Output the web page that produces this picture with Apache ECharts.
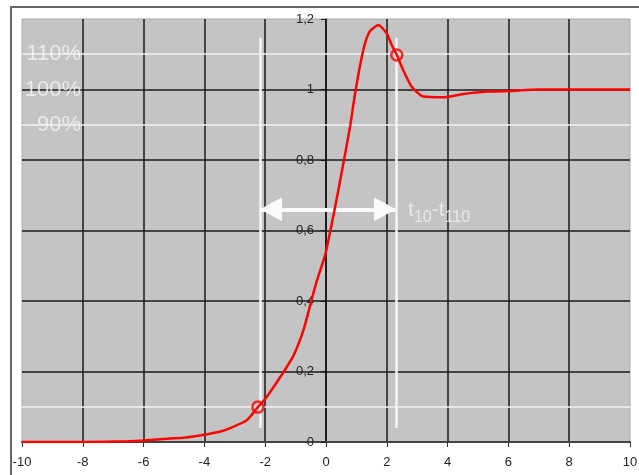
<!DOCTYPE html>
<html>
<head>
<meta charset="utf-8">
<script src="https://cdn.jsdelivr.net/npm/echarts@6/dist/echarts.min.js"></script>
<style>
html, body { margin: 0; padding: 0; background: #fff; }
#main { width: 639px; height: 475px; }
</style>
</head>
<body>
<div id="main"></div>
<script>
// step response
var curveX = [-10, -8, -6.5, -6, -5.35, -4.7, -4.05, -3.5, -3.05, -2.6, -2.25, -2.0, -1.46, -1.07, -0.75, -0.53, -0.31, -0.03, 0.3, 0.57, 0.79, 0.95, 1.12, 1.28, 1.45, 1.72, 2.0, 2.16, 2.33, 2.54, 2.82, 3.2, 3.86, 4.52, 5.29, 6.05, 7, 8, 10];
var curveY = [0, 0, 0.002, 0.004, 0.0085, 0.012, 0.02, 0.029, 0.043, 0.062, 0.098, 0.122, 0.19, 0.245, 0.315, 0.385, 0.455, 0.53, 0.667, 0.79, 0.894, 0.985, 1.068, 1.13, 1.166, 1.183, 1.159, 1.126, 1.098, 1.055, 1.008, 0.98, 0.978, 0.987, 0.994, 0.996, 1, 1, 1];

// marked points (10% and 110%)
var circleX = [-2.24, 2.33];
var circleY = [0.099, 1.098];

// reference levels
var levels = [1.1, 0.9, 0.1];
var levelText = ['110%', '100%', '90%'];
var levelTextY = [1.1, 1.0, 0.9];

// t10 / t110 markers
var markerX = [-2.17, 2.3];
var markerY = [0.04, 1.147];
var arrowY = 0.66;

var xTicks = { min: -10, max: 10, step: 2 };
var yTicks = { min: 0, max: 1.2, step: 0.2 };

var chart = echarts.init(document.getElementById('main'));
var font = '"Liberation Sans", Arial, sans-serif';

var gridLeft = 22, gridRight = 9;
var plotWidth = 639 - gridLeft - gridRight;
// y axis sits at x = 0, so shift it inwards from the left edge
var yAxisShift = -plotWidth * (0 - xTicks.min) / (xTicks.max - xTicks.min);

var curve = curveX.map(function (x, i) { return [x, curveY[i]]; });
var circles = circleX.map(function (x, i) { return [x, circleY[i]]; });

var guideLines = [];
levels.forEach(function (v) {
    guideLines.push({ yAxis: v, lineStyle: { color: '#f2f2f2', width: 1.5, type: 'solid' } });
});
markerX.forEach(function (x) {
    guideLines.push([
        { coord: [x, markerY[0]], lineStyle: { color: '#f4f4f4', width: 2.5, type: 'solid' } },
        { coord: [x, markerY[1]] }
    ]);
});
guideLines.push([
    { coord: [markerX[0], arrowY], symbol: 'triangle', symbolSize: [24, 22], symbolOffset: [0, 11],
      lineStyle: { color: '#fafafa', width: 4, type: 'solid' } },
    { coord: [markerX[1], arrowY], symbol: 'triangle', symbolSize: [24, 22], symbolOffset: [0, 11] }
]);

var option = {
    animation: false,
    backgroundColor: '#fff',
    grid: {
        left: gridLeft, right: gridRight, top: 19, bottom: 33,
        outerBoundsMode: 'none',
        containLabel: false,
        show: true,
        backgroundColor: '#c4c4c4',
        borderColor: '#a8a8a8',
        borderWidth: 1
    },
    graphic: [
        { type: 'line', shape: { x1: 10, y1: 7, x2: 639, y2: 7 }, style: { stroke: '#666', lineWidth: 2 } },
        { type: 'line', shape: { x1: 11, y1: 7, x2: 11, y2: 475 }, style: { stroke: '#666', lineWidth: 2 } }
    ],
    xAxis: {
        type: 'value',
        min: xTicks.min, max: xTicks.max, interval: xTicks.step,
        position: 'bottom',
        axisLine: { onZero: false, lineStyle: { color: '#444', width: 2 } },
        axisTick: { show: true, length: 5, lineStyle: { color: '#333' } },
        axisLabel: { color: '#222', fontSize: 13, fontFamily: font, margin: 14 },
        splitLine: { show: true, showMinLine: false, showMaxLine: false, lineStyle: { color: '#1a1a1a', width: 1.5 } }
    },
    yAxis: {
        type: 'value',
        min: yTicks.min, max: yTicks.max, interval: yTicks.step,
        position: 'left',
        offset: yAxisShift,
        axisLine: { onZero: false, lineStyle: { color: '#111', width: 1.5 } },
        axisTick: { show: true, length: 5, lineStyle: { color: '#111' } },
        axisLabel: {
            color: '#222', fontSize: 13, fontFamily: font, margin: 12,
            formatter: function (v) { return String(Math.round(v * 10) / 10).replace('.', ','); }
        },
        splitLine: { show: true, showMinLine: false, showMaxLine: false, lineStyle: { color: '#1a1a1a', width: 1.5 } }
    },
    series: [
        {
            type: 'line',
            data: [],
            z: 3,
            markLine: {
                silent: true,
                symbol: 'none',
                label: { show: false },
                data: guideLines
            }
        },
        {
            type: 'line',
            data: curve,
            showSymbol: false,
            smooth: 0.2,
            lineStyle: { color: '#ff0000', width: 2.5 },
            z: 5
        },
        {
            type: 'scatter',
            data: circles,
            symbol: 'circle',
            symbolSize: 11,
            itemStyle: { color: 'rgba(0,0,0,0)', borderColor: '#ff0000', borderWidth: 2.5 },
            z: 6
        },
        {
            type: 'scatter',
            symbolSize: 0,
            z: 7,
            data: levelText.map(function (t, i) {
                return { value: [-8.06, levelTextY[i]], name: t };
            }),
            label: {
                show: true, position: 'left', distance: 0,
                formatter: '{b}',
                color: '#f4f4f4', fontSize: 22, fontFamily: font
            }
        },
        {
            type: 'scatter',
            symbolSize: 0,
            z: 7,
            data: [[2.7, 0.658]],
            label: {
                show: true, position: 'right', distance: 0,
                formatter: '{a|t}{b|10}{a|-t}{b|110}',
                rich: {
                    a: { color: '#f0f0f0', fontSize: 21, fontFamily: font },
                    b: { color: '#f0f0f0', fontSize: 16, fontFamily: font, padding: [15, 0, 0, 0] }
                }
            }
        }
    ]
};

chart.setOption(option);
</script>
</body>
</html>
